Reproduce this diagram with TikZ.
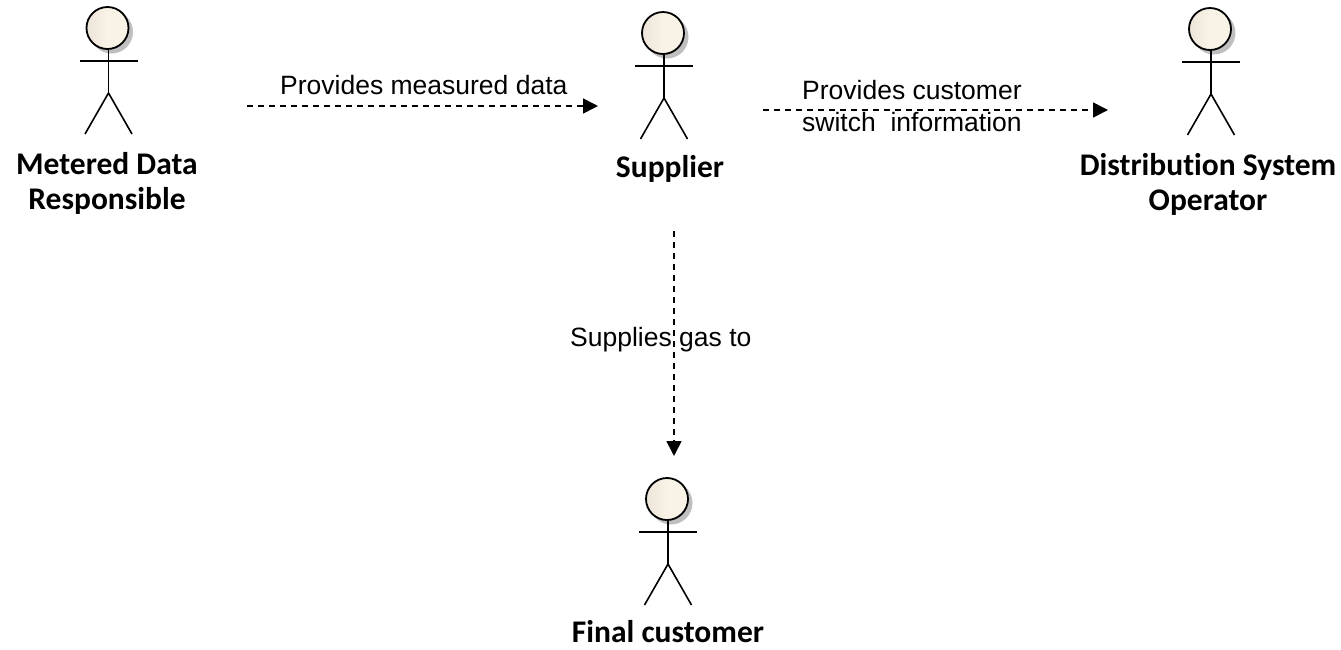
\documentclass[tikz,border=0pt]{standalone}
\usepackage{fontspec}
\setmainfont{Liberation Sans}
\newfontfamily\actorfont[Ligatures=NoCommon]{Carlito}
\usetikzlibrary{arrows.meta}
\tikzset{
  x=1pt,y=-1pt,
  limb/.style={draw=black,line width=1.6pt},
  headshape/.style={circle,minimum size=42pt,inner sep=0pt,draw=black,line width=1.8pt,left color=headL,right color=headR,shading angle=90,middle color=headR},
  headshadow/.style={circle,minimum size=43pt,inner sep=0pt,fill=black!25},
  actorname/.style={font=\actorfont\bfseries\fontsize{31.5}{35}\selectfont,align=center,anchor=north,inner sep=0pt},
  flow/.style={draw=black,line width=1.6pt,dash pattern=on 6pt off 5pt,-{Triangle[length=15pt,width=15pt]}},
  flowlabel/.style={font=\fontsize{26.5}{27}\selectfont,align=left,inner sep=0pt}
}
\definecolor{headL}{HTML}{EDE5DA}
\definecolor{headR}{HTML}{F9F2E7}
% #1 name, #2 x, #3 arm y, #4 head x
\newcommand{\stickman}[4]{%
  \node[headshadow] (#1shadow) at (#4+4,#3-29) {};
  \node[headshape] (#1head) at (#4,#3-33) {};
  \coordinate (#1neck) at (#2,#3-12);
  \coordinate (#1hip) at (#2,#3+32);
  \coordinate (#1armL) at (#2-29,#3);
  \coordinate (#1armR) at (#2+29,#3);
  \coordinate (#1footL) at (#2-23.5,#3+73);
  \coordinate (#1footR) at (#2+23.5,#3+73);
  \draw[limb] (#1neck) -- (#1hip);
  \draw[limb] (#1armL) -- (#1armR);
  \draw[limb] (#1footL) -- (#1hip) -- (#1footR);
}
\begin{document}
\begin{tikzpicture}
\useasboundingbox (0,0) rectangle (1341,649);
\stickman{mdr}{108.5}{61}{107.5}
\stickman{sup}{664}{66}{663}
\stickman{dso}{1211}{62}{1210}
\stickman{fin}{668}{532}{667}
\node[actorname] (mdrname) at (107,152) {Metered Data\\Responsible};
\node[actorname] (supname) at (670,155) {Supplier};
\node[actorname] (dsoname) at (1208,153) {Distribution System\\Operator};
\node[actorname] (finname) at (668,620) {Final customer};
\coordinate (a1) at (247,106);
\coordinate (b1) at (598,106);
\coordinate (a2) at (763,110);
\coordinate (b2) at (1108,110);
\coordinate (a3) at (674,231);
\coordinate (b3) at (674,456);
\draw[flow] (a1) -- (b1);
\draw[flow] (a2) -- (b2);
\draw[flow] (a3) -- (b3);
\node[flowlabel,anchor=west] (l1) at (280,85) {Provides measured data};
\node[flowlabel,anchor=west] (l2) at (802,90.5) {Provides customer};
\node[flowlabel,anchor=west] (l2b) at (802,122) {switch\ \ information};
\node[flowlabel,anchor=west] (l3) at (570,340) {Supplies gas to};
\end{tikzpicture}
\end{document}
